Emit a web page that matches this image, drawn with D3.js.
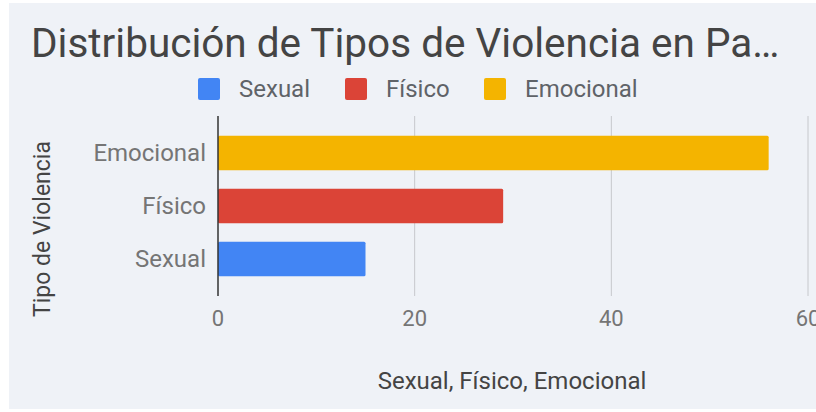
<!DOCTYPE html>
<html>
<head>
<meta charset="utf-8">
<script src="https://cdn.jsdelivr.net/npm/d3@7"></script>
<style>
  body { margin: 0; background: #fff; }
  svg { display: block; font-family: Roboto, sans-serif; }
</style>
</head>
<body>
<svg width="816" height="412"></svg>
<script>
// data
const categories = ["Emocional", "Físico", "Sexual"];
const values = [56, 29, 15];
const legendNames = ["Sexual", "Físico", "Emocional"];
const xTicks = [0, 20, 40, 60];

const colors = { "Sexual": "#4285f4", "Físico": "#db4437", "Emocional": "#f4b400" };

const svg = d3.select("svg");

// chart background (white strip on left/top/bottom like the screenshot)
svg.append("rect")
  .attr("x", 9).attr("y", 3)
  .attr("width", 807).attr("height", 406)
  .attr("fill", "#eff2f7");

// title
svg.append("text")
  .attr("x", 31).attr("y", 57)
  .attr("font-size", 40.5)
  .attr("fill", "#444")
  .text("Distribución de Tipos de Violencia en Pa…");

// legend
const legend = svg.append("g").attr("transform", "translate(0,78)");
const legendX = [198, 345, 484];
legendNames.forEach((name, i) => {
  const g = legend.append("g").attr("transform", `translate(${legendX[i]},0)`);
  g.append("rect")
    .attr("width", 22).attr("height", 22)
    .attr("rx", 2)
    .attr("fill", colors[name]);
  g.append("text")
    .attr("x", 41).attr("y", 19)
    .attr("font-size", 24)
    .attr("fill", "#5f6368")
    .text(name);
});

const x = d3.scaleLinear().domain([0, 60]).range([218, 808]);
const y = d3.scaleBand().domain(categories).range([116, 296])
  .paddingInner(0.35).paddingOuter(0.37);

// gridlines
svg.append("g")
  .selectAll("line")
  .data(xTicks.filter(d => d !== 0))
  .enter().append("line")
  .attr("x1", d => x(d)).attr("x2", d => x(d))
  .attr("y1", 116).attr("y2", 296)
  .attr("stroke", "#c6c8cc")
  .attr("stroke-width", 1);

// bars
const data = categories.map((c, i) => ({ name: c, value: values[i] }));
svg.append("g")
  .selectAll("rect")
  .data(data)
  .enter().append("rect")
  .attr("x", x(0))
  .attr("y", d => y(d.name))
  .attr("width", d => x(d.value) - x(0))
  .attr("height", y.bandwidth())
  .attr("rx", 1.5)
  .attr("fill", d => colors[d.name]);

// baseline at zero
svg.append("line")
  .attr("x1", x(0)).attr("x2", x(0))
  .attr("y1", 116).attr("y2", 296)
  .attr("stroke", "#333")
  .attr("stroke-width", 1.5);

// x tick labels
svg.append("g")
  .selectAll("text")
  .data(xTicks)
  .enter().append("text")
  .attr("x", d => x(d))
  .attr("y", 326)
  .attr("text-anchor", "middle")
  .attr("font-size", 22)
  .attr("fill", "#757575")
  .text(d => d);

// y tick labels
svg.append("g")
  .selectAll("text")
  .data(categories)
  .enter().append("text")
  .attr("x", 206)
  .attr("y", d => y(d) + y.bandwidth() / 2)
  .attr("dy", "0.35em")
  .attr("text-anchor", "end")
  .attr("font-size", 24)
  .attr("fill", "#757575")
  .text(d => d);

// axis titles
svg.append("text")
  .attr("x", 512).attr("y", 389)
  .attr("text-anchor", "middle")
  .attr("font-size", 24)
  .attr("fill", "#444")
  .text("Sexual, Físico, Emocional");

svg.append("text")
  .attr("transform", "translate(50,229) rotate(-90)")
  .attr("text-anchor", "middle")
  .attr("font-size", 23)
  .attr("fill", "#444")
  .text("Tipo de Violencia");
</script>
</body>
</html>
